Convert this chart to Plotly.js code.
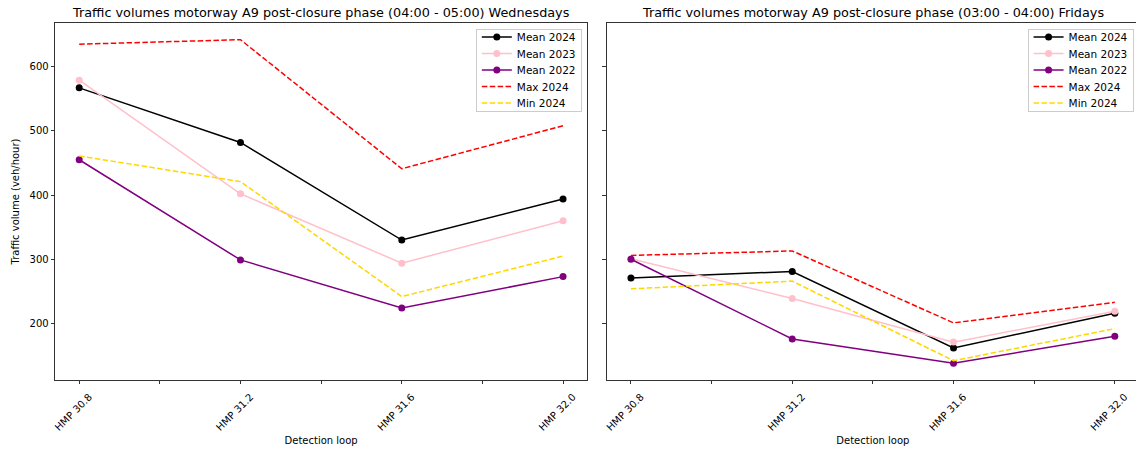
<!DOCTYPE html>
<html>
<head>
<meta charset="utf-8">
<script src="https://cdn.plot.ly/plotly-3.0.1.min.js"></script>
<style>
  html, body { margin: 0; padding: 0; overflow: hidden; background: #fff; }
  #chart { width: 1139px; height: 450px; }
</style>
</head>
<body>
<div id="chart"></div>
<script>
// Detection loop positions (hectometre posts) and their labels
const loops = [30.8, 31.2, 31.6, 32.0];
const loopLabels = ['HMP 30.8', 'HMP 31.2', 'HMP 31.6', 'HMP 32.0'];
const midTicks = [31.0, 31.4, 31.8];

// Wednesdays, 04:00 - 05:00 (veh/hour)
const wedMean2024 = [567, 482, 330, 394];
const wedMean2023 = [579, 402, 294, 360];
const wedMean2022 = [455, 299, 224, 273];
const wedMax2024  = [635, 642, 441, 508];
const wedMin2024  = [461, 421, 242, 305];

// Fridays, 03:00 - 04:00 (veh/hour)
const friMean2024 = [271, 281, 162, 216];
const friMean2023 = [301, 239, 171, 219];
const friMean2022 = [300, 176, 138, 180];
const friMax2024  = [306, 313, 201, 233];
const friMin2024  = [254, 266, 142, 192];

const FONT = 'DejaVu Sans, sans-serif';

const styles = [
  {name: 'Mean 2024', color: '#000000', mode: 'lines+markers', dash: 'solid'},
  {name: 'Mean 2023', color: '#ffc0cb', mode: 'lines+markers', dash: 'solid'},
  {name: 'Mean 2022', color: '#800080', mode: 'lines+markers', dash: 'solid'},
  {name: 'Max 2024',  color: '#ff0000', mode: 'lines',         dash: '5.5px,2.4px'},
  {name: 'Min 2024',  color: '#ffd700', mode: 'lines',         dash: '5.5px,2.4px'}
];

function makeTraces(seriesList, xa, ya, legendId) {
  return seriesList.map((vals, i) => ({
    x: loops,
    y: vals,
    xaxis: xa,
    yaxis: ya,
    legend: legendId,
    name: styles[i].name,
    type: 'scatter',
    mode: styles[i].mode,
    line: {color: styles[i].color, width: 1.5, dash: styles[i].dash},
    marker: {color: styles[i].color, size: 7},
    cliponaxis: true
  }));
}

const traces = [
  ...makeTraces([wedMean2024, wedMean2023, wedMean2022, wedMax2024, wedMin2024], 'x', 'y', 'legend'),
  ...makeTraces([friMean2024, friMean2023, friMean2022, friMax2024, friMin2024], 'x2', 'y2', 'legend2')
];

const xCommon = {
  range: [30.74, 32.06],
  tickmode: 'array',
  tickvals: loops,
  ticktext: loopLabels,
  tickangle: -45,
  ticklabelshift: 10,
  ticklabelstandoff: 3,
  ticks: 'outside',
  ticklen: 3.5,
  tickwidth: 0.8,
  tickcolor: '#000',
  minor: {tickmode: 'array', tickvals: midTicks, ticks: 'outside', ticklen: 3.5, tickwidth: 0.8, tickcolor: '#000'},
  showgrid: false,
  zeroline: false,
  showline: true,
  mirror: true,
  linecolor: '#000',
  linewidth: 0.8,
  tickfont: {family: FONT, size: 10, color: '#000'},
  title: {text: 'Detection loop', font: {family: FONT, size: 10, color: '#000'}, standoff: 4}
};

const yCommon = {
  range: [112, 668],
  tickvals: [200, 300, 400, 500, 600],
  ticks: 'outside',
  ticklen: 3.5,
  tickwidth: 0.8,
  tickcolor: '#000',
  showgrid: false,
  zeroline: false,
  showline: true,
  mirror: true,
  linecolor: '#000',
  linewidth: 0.8,
  tickfont: {family: FONT, size: 10, color: '#000'}
};

const legendCommon = {
  xanchor: 'right',
  yanchor: 'top',
  bgcolor: 'rgba(255,255,255,0.8)',
  bordercolor: '#cccccc',
  borderwidth: 1,
  font: {family: FONT, size: 10.5, color: '#000'},
  itemwidth: 30,
  tracegroupgap: 0
};

const layout = {
  width: 1139,
  height: 450,
  margin: {l: 55, r: 0, t: 23, b: 70},
  paper_bgcolor: '#ffffff',
  plot_bgcolor: '#ffffff',
  showlegend: true,
  xaxis: Object.assign({}, xCommon, {domain: [0, 0.491], anchor: 'y'}),
  xaxis2: Object.assign({}, xCommon, {domain: [0.509, 1], anchor: 'y2'}),
  yaxis: Object.assign({}, yCommon, {
    anchor: 'x',
    title: {text: 'Traffic volume (veh/hour)', font: {family: FONT, size: 10, color: '#000'}, standoff: 8}
  }),
  yaxis2: Object.assign({}, yCommon, {anchor: 'x2', matches: 'y', showticklabels: false}),
  legend: Object.assign({}, legendCommon, {x: 0.486, y: 0.983}),
  legend2: Object.assign({}, legendCommon, {x: 0.995, y: 0.983}),
  annotations: [
    {
      text: 'Traffic volumes motorway A9 post-closure phase (04:00 - 05:00) Wednesdays',
      xref: 'x domain', yref: 'y domain', x: 0.5, y: 1, yshift: 1,
      xanchor: 'center', yanchor: 'bottom', showarrow: false,
      font: {family: FONT, size: 12.8, color: '#000'}
    },
    {
      text: 'Traffic volumes motorway A9 post-closure phase (03:00 - 04:00) Fridays',
      xref: 'x2 domain', yref: 'y2 domain', x: 0.5, y: 1, yshift: 1,
      xanchor: 'center', yanchor: 'bottom', showarrow: false,
      font: {family: FONT, size: 12.8, color: '#000'}
    }
  ]
};

// Tighten legend row spacing to a compact 16.5px pitch
function compactLegends(gd) {
  const pitch = 16.5;
  const topPad = 8;
  gd.querySelectorAll('g.legend, g.legend2').forEach(function (lg) {
    const rows = lg.querySelectorAll('g.traces');
    if (!rows.length) return;
    rows.forEach(function (row, i) {
      const m = /translate\(\s*([-\d.]+)[ ,]+([-\d.]+)\s*\)/.exec(row.getAttribute('transform') || '');
      const x = m ? parseFloat(m[1]) : 0;
      row.setAttribute('transform', 'translate(' + x + ',' + (topPad + i * pitch) + ')');
    });
    const bg = lg.querySelector('rect.bg');
    if (bg) bg.setAttribute('height', String(topPad * 2 + (rows.length - 1) * pitch));
  });
}

Plotly.newPlot('chart', traces, layout, {displayModeBar: false, staticPlot: true})
  .then(function (gd) { compactLegends(gd); });
</script>
</body>
</html>
